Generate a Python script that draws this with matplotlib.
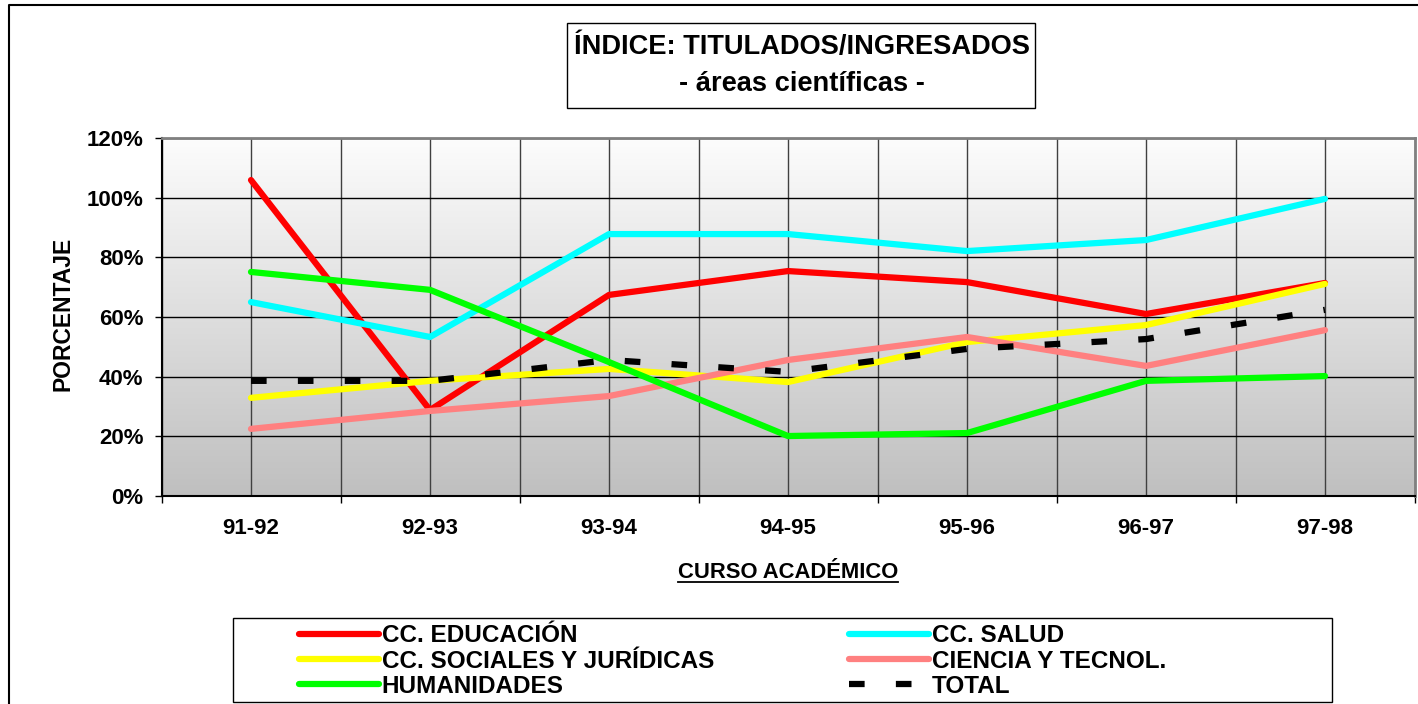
import numpy as np
import matplotlib.pyplot as plt
from matplotlib.lines import Line2D
from matplotlib.patches import Rectangle

plt.rcParams['font.family'] = ['Liberation Sans', 'DejaVu Sans']
plt.rcParams['font.weight'] = 'bold'

cursos = ['91-92', '92-93', '93-94', '94-95', '95-96', '96-97', '97-98']
educacion = [105.9, 28.8, 67.4, 75.4, 71.7, 61.0, 71.4]
salud = [65.0, 53.3, 87.8, 87.8, 82.1, 85.8, 99.6]
sociales = [32.9, 38.6, 42.6, 38.2, 51.6, 57.3, 71.1]
ciencia = [22.5, 28.5, 33.5, 45.6, 53.3, 43.6, 55.6]
humanidades = [75.1, 69.1, 44.9, 20.1, 21.1, 38.6, 40.2]
total = [38.6, 38.6, 45.6, 41.6, 49.3, 52.6, 62.4]

W, H = 1418, 704
fig = plt.figure(figsize=(W / 100, H / 100), dpi=100)


def fx(x):
    return x / W


def fy(y):
    # pixel row from the top -> figure fraction
    return 1 - y / H


ax = fig.add_axes([fx(161.5), fy(496), fx(1414.5) - fx(161.5), fy(138) - fy(496)])

# grey gradient behind the plot
shade = np.linspace(0.99, 0.75, 256)[:, None] * np.ones((1, 2))
ax.imshow(np.dstack([shade, shade, shade]), extent=[-0.5, 6.5, 0, 120],
          aspect='auto', origin='upper', zorder=0)

x = np.arange(len(cursos))
kw = dict(lw=4.5, solid_capstyle='round', solid_joinstyle='round')
l_edu, = ax.plot(x, educacion, color='#ff0000', **kw)
l_sal, = ax.plot(x, salud, color='#00ffff', **kw)
l_soc, = ax.plot(x, sociales, color='#ffff00', **kw)
l_cie, = ax.plot(x, ciencia, color='#ff8080', **kw)
l_hum, = ax.plot(x, humanidades, color='#00ff00', **kw)
l_tot, = ax.plot(x, total, color='black', lw=4.5, dashes=(2.5, 5), dash_capstyle='butt')

ax.set_xlim(-0.5, 6.5)
ax.set_ylim(0, 120)
ax.set_axisbelow(True)

ax.set_xticks(np.arange(-0.5, 7, 1))
ax.set_xticklabels([])
ax.set_xticks(x, minor=True)
ax.set_xticklabels(cursos, minor=True, fontsize=16, fontweight='bold')
ax.tick_params(axis='x', which='major', direction='out', length=5, width=1)
ax.tick_params(axis='x', which='minor', length=0, pad=16)
ax.grid(axis='x', which='both', color='#404040', lw=1)

ax.set_yticks(np.arange(0, 121, 20))
ax.set_yticklabels([f'{v}%' for v in range(0, 121, 20)], fontsize=16, fontweight='bold')
ax.tick_params(axis='y', direction='out', length=5, width=1, pad=8)
ax.grid(axis='y', color='black', lw=1)

for s in ['left', 'bottom']:
    ax.spines[s].set_color('black')
    ax.spines[s].set_linewidth(1.5)
for s in ['top', 'right']:
    ax.spines[s].set_color('#808080')
    ax.spines[s].set_linewidth(2)

# axis titles
fig.text(fx(63), fy(314), 'PORCENTAJE', rotation=90, ha='center', va='center',
         fontsize=16.5, fontweight='bold')
xl = fig.text(fx(788), fy(573), 'CURSO ACADÉMICO', ha='center', va='center',
              fontsize=15.8, fontweight='bold')
r = fig.canvas.get_renderer()
bb = xl.get_window_extent(renderer=r)
fig.add_artist(Line2D([bb.x0 / W, bb.x1 / W], [(bb.y0 + 2) / H, (bb.y0 + 2) / H],
                      color='black', lw=1.3, transform=fig.transFigure))

# outer frame
fig.add_artist(Line2D([fx(9), fx(9), 1], [0, fy(5), fy(5)], color='black', lw=1.5,
                      transform=fig.transFigure))

# title box
fig.add_artist(Rectangle((fx(567), fy(108)), fx(1035) - fx(567), fy(23) - fy(108),
                         facecolor='white', edgecolor='black', lw=1,
                         transform=fig.transFigure))
fig.text(fx(802), fy(47), 'ÍNDICE: TITULADOS/INGRESADOS', ha='center', va='center',
         fontsize=19.6, fontweight='bold')
fig.text(fx(802), fy(84), '- áreas científicas -', ha='center', va='center',
         fontsize=19.6, fontweight='bold')

# legend box and entries
fig.add_artist(Rectangle((fx(233), fy(702)), fx(1332) - fx(233), fy(618) - fy(702),
                         facecolor='white', edgecolor='black', lw=1,
                         transform=fig.transFigure))
leg_kw = dict(loc='center left', frameon=False, fontsize=17.5, handlelength=3.3,
              handletextpad=0.1, labelspacing=0.1, borderpad=0, borderaxespad=0)
leg1 = fig.legend([l_edu, l_soc, l_hum],
                  ['CC. EDUCACIÓN', 'CC. SOCIALES Y JURÍDICAS', 'HUMANIDADES'],
                  bbox_to_anchor=(fx(299), fy(661)), **leg_kw)
leg2 = fig.legend([l_sal, l_cie, l_tot],
                  ['CC. SALUD', 'CIENCIA Y TECNOL.', 'TOTAL'],
                  bbox_to_anchor=(fx(849), fy(661)), **leg_kw)
for lg in (leg1, leg2):
    for t in lg.get_texts():
        t.set_fontweight('bold')

fig.savefig('out.png', dpi=100)
